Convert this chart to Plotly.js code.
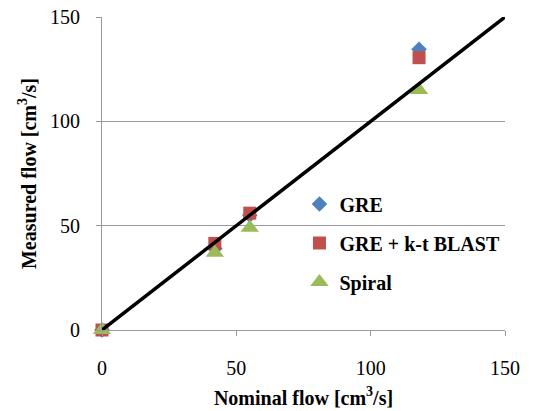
<!DOCTYPE html>
<html><head><meta charset="utf-8">
<script src="https://cdn.plot.ly/plotly-3.0.1.min.js"></script>
<style>html,body{margin:0;padding:0;background:#fff}#c{width:537px;height:411px}</style>
</head><body><div id="c"></div>
<script>
const nominal = [0, 42, 55, 118];
const gre = [0, 39, 55, 134.5];
const greKt = [0, 41.5, 56, 130.5];
const spiral = [0, 37, 49, 115];
const lineX = [0, 150];
const lineY = [0, 150];
const tickVals = [0, 50, 100, 150];

const font = {family: 'Liberation Serif, Times New Roman, serif', color: '#000'};
const traces = [
  {x: nominal, y: gre, name: '<b>GRE</b>', mode: 'markers', legendgroup: 'a', cliponaxis: false,
   marker: {symbol: 'diamond', size: 12, color: '#4F81BD'}},
  {x: nominal, y: greKt, name: '<b>GRE + k-t BLAST</b>', mode: 'markers', legendgroup: 'b', cliponaxis: false,
   marker: {symbol: 'square', size: 13, color: '#C0504D'}},
  {x: nominal, y: spiral, name: '<b>Spiral</b>', mode: 'markers', legendgroup: 'c', cliponaxis: false,
   marker: {symbol: 'triangle-up', size: 16, color: '#9BBB59'}},
  {x: lineX, y: lineY, mode: 'lines', line: {color: '#000', width: 3.5}, showlegend: false, hoverinfo: 'skip'}
];
const layout = {
  width: 537, height: 411,
  margin: {l: 102, r: 32, t: 17, b: 81},
  paper_bgcolor: '#fff', plot_bgcolor: '#fff',
  font: Object.assign({size: 20}, font),
  xaxis: {range: [0, 150], tickvals: tickVals, showgrid: false, zeroline: false,
    showline: true, linecolor: '#999', linewidth: 1, ticks: 'outside', ticklen: 5, tickcolor: '#999',
    ticklabelstandoff: 15, tickfont: Object.assign({size: 20}, font),
    title: {text: '<b>Nominal flow [cm<sup>3</sup>/s]</b>', font: Object.assign({size: 20}, font), standoff: 12}},
  yaxis: {range: [0, 150], tickvals: tickVals, showgrid: true, gridcolor: '#999', gridwidth: 1, zeroline: false,
    showline: true, linecolor: '#999', linewidth: 1, ticks: 'outside', ticklen: 5, tickcolor: '#999',
    ticklabelstandoff: 12, tickfont: Object.assign({size: 20}, font),
    title: {text: '<b>Measured flow [cm<sup>3</sup>/s]</b>', font: Object.assign({size: 20}, font), standoff: 8}},
  legend: {x: 0.49, y: 0.465, xanchor: 'left', yanchor: 'top', bgcolor: 'rgba(0,0,0,0)',
    traceorder: 'grouped', tracegroupgap: 10, font: Object.assign({size: 20}, font), itemwidth: 30},
  showlegend: true
};
Plotly.newPlot('c', traces, layout, {displayModeBar: false, staticPlot: true});
</script></body></html>
